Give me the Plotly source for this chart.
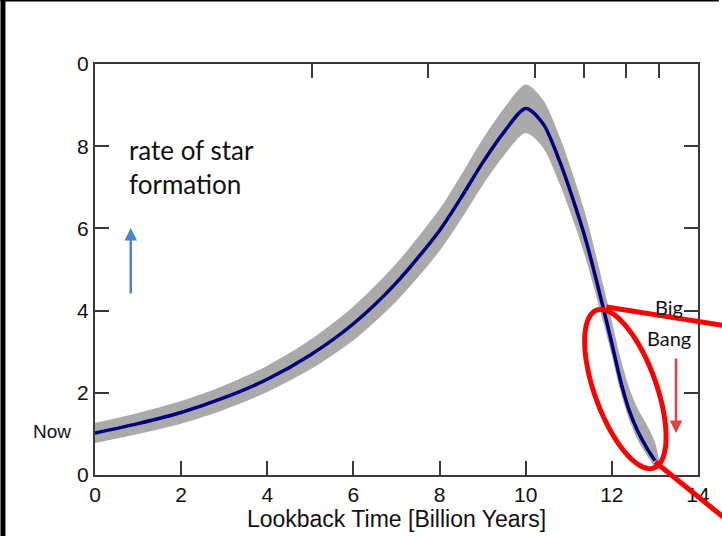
import numpy as np
import plotly.graph_objects as go

# ---- data ----
lookback = [0, 1, 2, 3, 4, 5, 6, 7, 8, 8.5, 9, 9.5, 10, 10.4, 10.8, 11.1, 11.4, 11.8, 12.0, 12.2, 12.4, 12.6, 12.8, 13.0]
sfr = [1.02, 1.25, 1.52, 1.88, 2.33, 2.92, 3.68, 4.68, 5.95, 6.75, 7.6, 8.35, 8.92, 8.55, 7.6, 6.7, 5.7, 4.07, 3.2, 2.3, 1.58, 1.07, 0.68, 0.35]
sfr_lower = [0.78, 1.00, 1.25, 1.59, 2.02, 2.57, 3.28, 4.23, 5.45, 6.22, 7.05, 7.78, 8.32, 7.97, 7.05, 6.20, 5.25, 3.72, 2.90, 2.03, 1.35, 0.85, 0.50, 0.20]
band_upper_x = [0, 1, 2, 3, 4, 5, 6, 7, 8, 8.5, 9, 9.5, 10, 10.4, 10.8, 11.1, 11.4, 11.8, 12.0, 12.2, 12.4, 12.6, 12.8, 13.0, 13.12]
sfr_upper = [1.27, 1.51, 1.80, 2.18, 2.66, 3.29, 4.10, 5.15, 6.47, 7.30, 8.17, 8.93, 9.50, 9.13, 8.20, 7.30, 6.30, 4.62, 3.75, 2.85, 2.13, 1.62, 1.25, 0.80, 0.22]

xticks = [0, 2, 4, 6, 8, 10, 12, 14]
xticktext = ["0", "2", "4", "6", "8", "10", "12", "14"]
yticks = [0, 2, 4, 6, 8, 10]
yticktext = ["0", "2", "4", "6", "8", "0"]
right_ticks = [2, 4, 6, 8]
top_ticks = [5.03, 7.72, 10.22, 11.35, 12.32, 13.1]

# ---- layout geometry (pixels) ----
W, H = 722, 536
ML, MR, MT, MB = 95, 21, 64, 61
PW, PH = W - ML - MR, H - MT - MB


def px2paper(px, py):
    return (px - ML) / PW, (H - MB - py) / PH


fig = go.Figure()

# uncertainty band
fig.add_trace(go.Scatter(x=lookback, y=sfr_lower, mode="lines", line=dict(width=0, shape="spline", smoothing=0.8),
                         hoverinfo="skip", showlegend=False))
fig.add_trace(go.Scatter(x=band_upper_x, y=sfr_upper, mode="lines", line=dict(width=0, shape="spline", smoothing=0.8),
                         fill="tonexty", fillcolor="#aaaaaa", hoverinfo="skip", showlegend=False))
# main curve
fig.add_trace(go.Scatter(x=lookback, y=sfr, mode="lines",
                         line=dict(color="#00007f", width=3.5, shape="spline", smoothing=0.8), showlegend=False))
# invisible traces for the secondary (tick-only) axes
fig.add_trace(go.Scatter(x=[0, 14], y=[0, 0], xaxis="x2", yaxis="y2", mode="lines",
                         line=dict(width=0), hoverinfo="skip", showlegend=False))

axis_col = "#3a3a3a"
tickfont = dict(family="Liberation Sans, Arial", size=21, color="#111")
tick_common = dict(ticks="inside", ticklen=14, tickwidth=2, tickcolor=axis_col,
                   showgrid=False, zeroline=False)

fig.update_layout(
    width=W, height=H, autosize=False,
    margin=dict(l=ML, r=MR, t=MT, b=MB),
    paper_bgcolor="white", plot_bgcolor="white",
    showlegend=False,
    xaxis=dict(range=[0, 14], tickvals=xticks, ticktext=xticktext,
               showline=True, linewidth=2, linecolor=axis_col, mirror=True, tickfont=tickfont,
               title=dict(text="Lookback Time [Billion Years]",
                          font=dict(family="Liberation Sans, Arial", size=23, color="#111"), standoff=0),
               **tick_common),
    xaxis2=dict(range=[0, 14], overlaying="x", side="top", tickvals=top_ticks,
                showticklabels=False, showline=False, **tick_common),
    yaxis=dict(range=[0, 10], tickvals=yticks, ticktext=yticktext,
               showline=True, linewidth=2, linecolor=axis_col, mirror=True, tickfont=tickfont,
               **tick_common),
    yaxis2=dict(range=[0, 10], overlaying="y", side="right", tickvals=right_ticks,
                showticklabels=False, showline=False, **tick_common),
)

# text annotations
fig.add_annotation(xref="paper", yref="y", x=px2paper(52, 0)[0], y=1.05, text="Now", showarrow=False,
                   xanchor="center", yanchor="middle",
                   font=dict(family="Liberation Sans, Arial", size=19, color="#111"))
fig.add_annotation(xref="x", yref="y", x=0.74, y=7.49, text="rate of star<br>formation", showarrow=False,
                   xanchor="left", yanchor="middle", align="left",
                   font=dict(family="Lato", size=26, color="#111"))
fig.add_annotation(xref="x", yref="y", x=13.33, y=4.09, text="Big", showarrow=False,
                   xanchor="center", font=dict(family="Lato", size=20, color="#111"))
fig.add_annotation(xref="x", yref="y", x=13.33, y=3.33, text="Bang", showarrow=False,
                   xanchor="center", font=dict(family="Lato", size=20, color="#111"))

# arrows
fig.add_annotation(xref="x", yref="y", x=0.83, y=6.01, ax=0, ay=67, text="", showarrow=True,
                   arrowhead=2, arrowsize=1, arrowwidth=2.5, arrowcolor="#4a86d0")
fig.add_annotation(xref="x", yref="y", x=13.49, y=1.02, ax=0, ay=-76, text="", showarrow=True,
                   arrowhead=2, arrowsize=1, arrowwidth=2.5, arrowcolor="#e8403a")

# red ellipse (tilted) in paper coordinates
cx, cy, a, b, th = 628, 389, 84, 31, np.deg2rad(20)
ux, uy = np.sin(th), np.cos(th)
vx, vy = np.cos(th), -np.sin(th)
tt = np.linspace(0, 2 * np.pi, 90)
pts = [px2paper(cx + a * np.cos(t) * ux + b * np.sin(t) * vx,
                cy + a * np.cos(t) * uy + b * np.sin(t) * vy) for t in tt]
path = "M " + " L ".join(f"{x:.5f},{y:.5f}" for x, y in pts) + " Z"
fig.add_shape(type="path", path=path, xref="paper", yref="paper", line=dict(color="#ff0000", width=5))

# red connector lines
for (x0, y0), (x1, y1) in [((609, 307), (730, 326)), ((658, 462), (730, 520))]:
    p0, p1 = px2paper(x0, y0), px2paper(x1, y1)
    fig.add_shape(type="line", xref="paper", yref="paper", x0=p0[0], y0=p0[1], x1=p1[0], y1=p1[1],
                  line=dict(color="#ff0000", width=5))

# black frame strips (left and top)
p0, p1 = px2paper(0, H), px2paper(5, 0)
fig.add_shape(type="rect", xref="paper", yref="paper", x0=p0[0], y0=p0[1], x1=p1[0], y1=p1[1],
              fillcolor="black", line=dict(width=0))
p0, p1 = px2paper(0, 1.5), px2paper(W, 0)
fig.add_shape(type="rect", xref="paper", yref="paper", x0=p0[0], y0=p0[1], x1=p1[0], y1=p1[1],
              fillcolor="black", line=dict(width=0))

fig.write_html("out.html")
